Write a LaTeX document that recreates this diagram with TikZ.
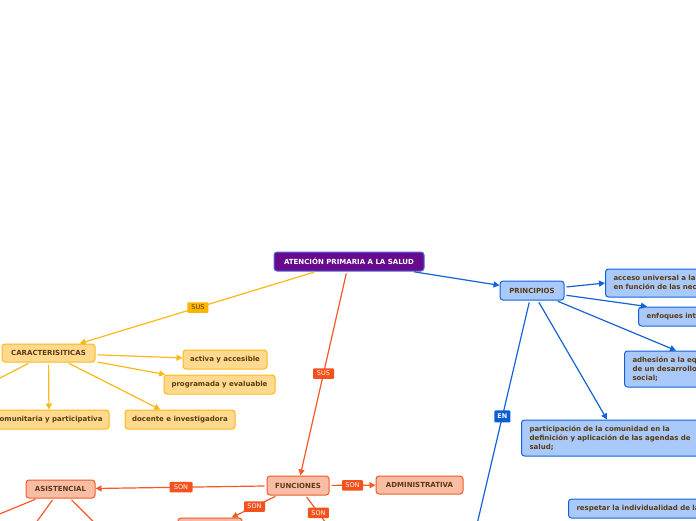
\documentclass[tikz,border=0pt]{standalone}
\usepackage{fontspec}
\setmainfont{DejaVu Sans}
\usetikzlibrary{arrows.meta}
\definecolor{txt}{HTML}{5A3A12}
\definecolor{yfill}{HTML}{FFDA8E}
\definecolor{yline}{HTML}{FBB917}
\definecolor{ylab}{HTML}{FBB400}
\definecolor{bfill}{HTML}{A8C9F9}
\definecolor{bline}{HTML}{1463D6}
\definecolor{blab}{HTML}{0A5DD3}
\definecolor{ofill}{HTML}{F9BDA6}
\definecolor{oline}{HTML}{F45A26}
\definecolor{olab}{HTML}{F4511C}
\definecolor{pfill}{HTML}{680A8E}
\definecolor{pline}{HTML}{4F6AE0}
\begin{document}
\begin{tikzpicture}[x=1pt,y=-1pt,
  box/.style={draw, rounded corners=3pt, line width=1pt, text=txt, inner sep=0pt, align=center,
    font=\fontsize{7}{9}\selectfont\bfseries},
  ybox/.style={box, fill=yfill, draw=yline},
  bluebox/.style={box, fill=bfill, draw=bline},
  obox/.style={box, fill=ofill, draw=oline},
  pbox/.style={box, fill=pfill, draw=pline, text=white},
  lbox/.style={align=left, inner xsep=8pt, anchor=west},
  lab/.style={rounded corners=1pt, inner sep=0pt, minimum width=21pt, minimum height=10.5pt,
    font=\fontsize{6.5}{8}\selectfont, text=white},
  yarr/.style={draw=yline, line width=1.2pt, -{Triangle[length=6pt,width=6pt]}, shorten <=2pt},
  barr/.style={draw=bline, line width=1.2pt, -{Triangle[length=6pt,width=6pt]}, shorten <=2pt},
  oarr/.style={draw=oline, line width=1.2pt, -{Triangle[length=6pt,width=6pt]}, shorten <=2pt},
]
\clip (0,0) rectangle (696,520);
\fill[white] (0,0) rectangle (696,520);

% main
\node[pbox, minimum width=150pt, minimum height=19pt] (main) at (349,261.5) {ATENCIÓN PRIMARIA A LA SALUD};

% blue
\node[bluebox, minimum width=64pt, minimum height=19pt] (prin) at (532,290.5) {PRINCIPIOS};
\node[bluebox, lbox, minimum height=28pt, text width=190pt] (acc) at (605,283) {acceso universal a la atención y cobertura\\en función de las necesidades;};
\node[bluebox, lbox, minimum height=19pt, text width=160pt] (enf) at (638,316.5) {enfoques intersectoriales de la salud.};
\node[bluebox, lbox, minimum height=36pt, text width=200pt] (adh) at (624,369) {adhesión a la equidad sanitaria como parte\\de un desarrollo orientado a la justicia\\social;};
\node[bluebox, lbox, minimum height=36pt, text width=168pt] (par) at (521,438) {participación de la comunidad en la\\definición y aplicación de las agendas de\\salud;};
\node[bluebox, lbox, minimum height=19pt, text width=200pt] (res) at (568,508.5) {respetar la individualidad de la persona};
\coordinate (enend) at (474,537);

% yellow
\node[ybox, minimum width=93pt, minimum height=18pt] (car) at (48.5,353) {CARACTERISITICAS};
\node[ybox, minimum width=84pt, minimum height=19pt] (act) at (225,359.5) {activa y accesible};
\node[ybox, minimum width=111pt, minimum height=19pt] (pro) at (219.5,384.5) {programada y evaluable};
\node[ybox, minimum width=120pt, minimum height=19pt] (com) at (49,419.5) {comunitaria y participativa};
\node[ybox, minimum width=110pt, minimum height=19pt] (doc) at (180,419.5) {docente e investigadora};
\coordinate (carleft) at (-30,393.5);

% orange
\node[obox, minimum width=62pt, minimum height=19pt] (fun) at (298,485.5) {FUNCIONES};
\node[obox, minimum width=87pt, minimum height=18pt] (adm) at (419.5,485) {ADMINISTRATIVA};
\node[obox, minimum width=69pt, minimum height=18pt] (asi) at (60.5,489) {ASISTENCIAL};
\node[obox, minimum width=64pt, minimum height=20pt] (fbot) at (210,528) {};
\coordinate (fdown) at (335,535);
\coordinate (a1) at (-20,522);
\coordinate (a2) at (30,531);
\coordinate (a3) at (105,533);

% connectors
\draw[yarr] (main) -- node[lab, fill=ylab, text=txt] {SUS} (car);
\draw[yarr] (car) -- (act);
\draw[yarr] (car) -- (pro);
\draw[yarr] (car) -- (com);
\draw[yarr] (car) -- (doc);
\draw[yarr] (car) -- (carleft);

\draw[barr] (main) -- (prin);
\draw[barr] (prin) -- (acc.west);
\draw[barr] (prin) -- ([xshift=9pt]enf.north west);
\draw[barr] (prin) -- ([xshift=52pt]adh.north west);
\draw[barr] (prin) -- ([xshift=86pt]par.north west);
\draw[barr] (prin) -- node[pos=0.49, lab, fill=blab, minimum width=16pt, minimum height=12pt, font=\fontsize{6.5}{8}\selectfont\bfseries] {EN} (enend);

\draw[oarr] (main) -- node[lab, fill=olab] {SUS} (fun);
\draw[oarr] (fun) -- node[lab, fill=olab, minimum width=23pt] {SON} (asi);
\draw[oarr] (fun) -- node[lab, fill=olab] {SON} (adm);
\draw[oarr] (fun) -- node[lab, fill=olab] {SON} (fbot);
\draw[oarr] (fun) -- node[pos=0.44, lab, fill=olab] {SON} (fdown);
\draw[oarr] (asi) -- (a1);
\draw[oarr] (asi) -- (a2);
\draw[oarr] (asi) -- (a3);
\end{tikzpicture}
\end{document}
